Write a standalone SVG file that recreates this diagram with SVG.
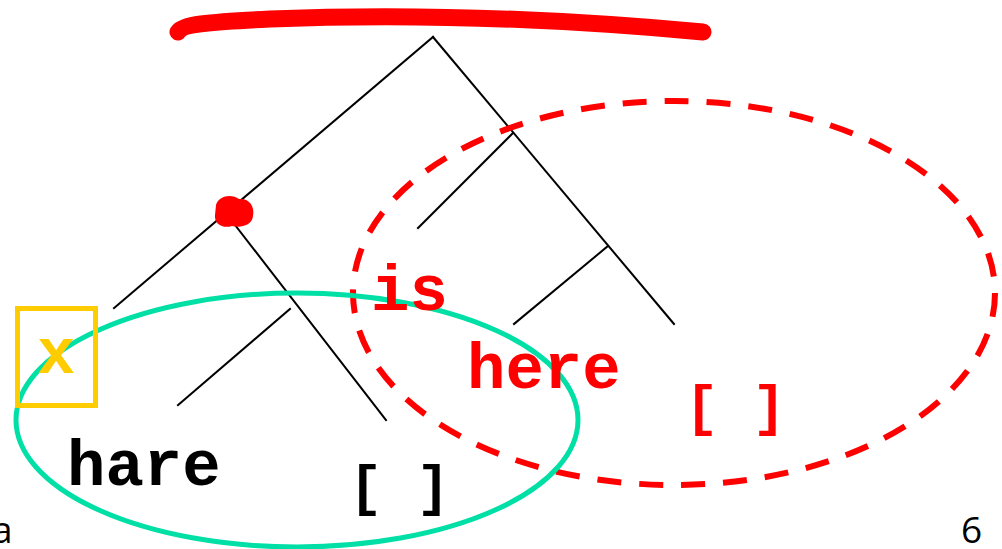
<svg xmlns="http://www.w3.org/2000/svg" width="1002" height="549" viewBox="0 0 1002 549">
<style>
.edge{stroke:#000;stroke-width:2;fill:none;stroke-linecap:square}
.mono{font-family:"Liberation Mono","Courier New",monospace;font-weight:bold;font-size:64px}
.br{font-size:56px}
.sans{font-family:"Open Sans","Noto Sans","Liberation Sans",sans-serif;font-size:37px;fill:#000}
</style>
<rect width="1002" height="549" fill="#fff"/>
<g id="connectors">
<line class="edge" x1="433" y1="37" x2="114" y2="308"/>
<line class="edge" x1="433" y1="37" x2="674" y2="324"/>
<line class="edge" x1="513" y1="133" x2="418" y2="228"/>
<line class="edge" x1="608" y1="246" x2="514" y2="324"/>
<line class="edge" x1="225" y1="212" x2="386" y2="420"/>
<line class="edge" x1="290" y1="309" x2="178" y2="405"/>
</g>
<g id="strike">
<path d="M178,32 C182,25 205,22 270,19 C390,14 540,17 703,32" fill="none" stroke="#f00" stroke-width="17" stroke-linecap="round"/>
</g>
<g id="blob">
<path d="M216,205 C219,195 232,194 239,199 C249,198 255,206 253,216 C252,226 240,228 232,226 C223,229 214,224 215,215 Z" fill="#f00"/>
</g>
<g id="red-ellipse">
<ellipse cx="674" cy="293" rx="321" ry="192" fill="none" stroke="#f00" stroke-width="6" stroke-dasharray="24 18"/>
</g>
<g id="teal-ellipse">
<ellipse cx="297" cy="420" rx="281" ry="127" fill="none" stroke="#00DFA5" stroke-width="5"/>
</g>
<g id="x-node">
<rect x="17.5" y="308.5" width="78" height="97" fill="none" stroke="#FFCC00" stroke-width="5"/>
<text class="mono" x="37" y="373" fill="#FFCC00">x</text>
</g>
<g id="hare-node"><text class="mono" x="67" y="485" fill="#000">hare</text></g>
<g id="nil1-node"><text class="mono br" x="349" y="504" fill="#000">[ ]</text></g>
<g id="is-node"><text class="mono" x="371" y="310" fill="#f00">is</text></g>
<g id="here-node"><text class="mono" x="467" y="388" fill="#f00">here</text></g>
<g id="nil2-node"><text class="mono br" x="685" y="424" fill="#f00">[ ]</text></g>
<text class="sans" x="-8" y="543">a</text>
<text class="sans" x="961" y="543">6</text>
</svg>
